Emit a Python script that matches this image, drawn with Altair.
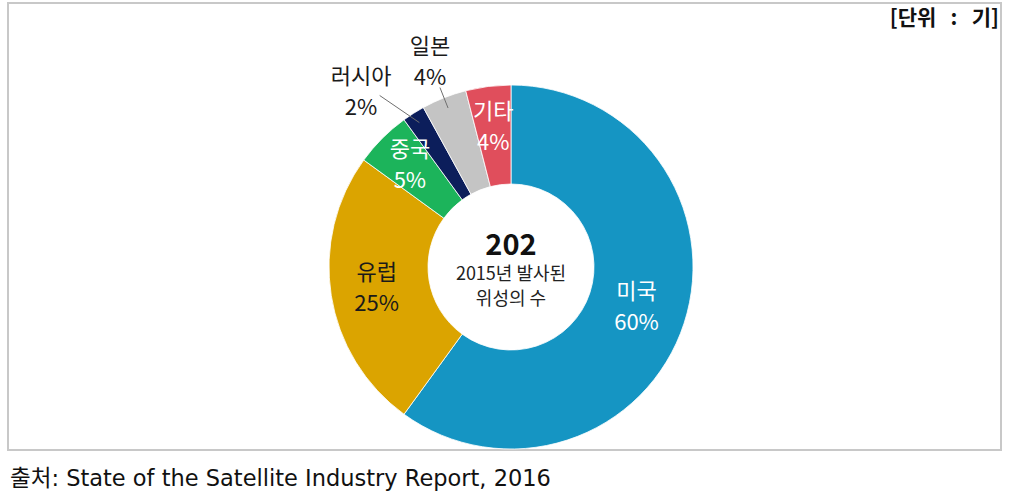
import altair as alt
import pandas as pd

# ---- data ----
categories = ["미국", "유럽", "중국", "러시아", "일본", "기타"]
percents = [60, 25, 5, 2, 4, 4]
total_count = "202"
caption_lines = ["2015년 발사된", "위성의 수"]
unit_text = "[단위\u00a0\u00a0\u00a0:\u00a0\u00a0\u00a0기]"
source_text = "출처: State of the Satellite Industry Report, 2016"

# ---- styles ----
slice_colors = ["#1595c3", "#dba400", "#1cb45b", "#0c1e5b", "#c4c4c4", "#e04e5c"]
label_colors = ["#ffffff", "#1a1a1a", "#ffffff", "#1a1a1a", "#1a1a1a", "#ffffff"]
label_radius = [132, 136, 143, 230, 220, 141]
label_shift = [0, 0, 0, -2.3, 0, 0]          # angle shift in percent units
outside = [False, False, False, True, True, False]
leader_start_r = [0, 0, 0, 216, 193, 0]
leader_start_shift = [0, 0, 0, -1.4, 0, 0]
leader_end_r = 171
CX, CY = 511, 267
R_IN, R_OUT = 83, 182
FONT = "Noto Sans CJK KR"
LH = 31

df = pd.DataFrame({
    "idx": list(range(len(categories))),
    "cat": categories,
    "value": percents,
    "tcolor": label_colors,
    "lr": label_radius,
    "shift": label_shift,
    "outside": outside,
    "ls_r": leader_start_r,
    "ls_shift": leader_start_shift,
})
df["label"] = [f"{c}\n{p}%" for c, p in zip(categories, percents)]

theta_scale = alt.Scale(domain=[0, 100], range=[0, 6.283185307179586])

base = (
    alt.Chart(df)
    .transform_window(cum="sum(value)", sort=[{"field": "idx"}])
    .transform_calculate(
        start="datum.cum - datum.value",
        end="datum.cum",
        mid="datum.cum - datum.value / 2",
        lmid="datum.cum - datum.value / 2 + datum.shift",
    )
)

arcs = base.mark_arc(innerRadius=R_IN, outerRadius=R_OUT, stroke="white", strokeWidth=0.8).encode(
    theta=alt.Theta("start:Q", scale=theta_scale),
    theta2="end:Q",
    color=alt.Color("cat:N", scale=alt.Scale(domain=categories, range=slice_colors), legend=None),
    x=alt.value(CX),
    y=alt.value(CY),
)

labels = base.mark_text(
    font=FONT, fontSize=22, lineHeight=LH, lineBreak="\n", align="center", baseline="middle", dy=-LH / 2
).encode(
    theta=alt.Theta("lmid:Q", scale=theta_scale),
    radius=alt.Radius("lr:Q", scale=None),
    text="label:N",
    color=alt.Color("tcolor:N", scale=None),
    x=alt.value(CX),
    y=alt.value(CY),
)

leaders = (
    base.transform_filter("datum.outside")
    .transform_calculate(
        a1="(datum.mid + datum.ls_shift) / 100 * 2 * PI",
        a2="datum.mid / 100 * 2 * PI",
    )
    .transform_calculate(
        px1=f"{CX} + datum.ls_r * sin(datum.a1)",
        py1=f"{CY} - datum.ls_r * cos(datum.a1)",
        px2=f"{CX} + {leader_end_r} * sin(datum.a2)",
        py2=f"{CY} - {leader_end_r} * cos(datum.a2)",
    )
    .mark_rule(color="#6f6f6f", strokeWidth=1)
    .encode(
        x=alt.X("px1:Q", scale=None),
        y=alt.Y("py1:Q", scale=None),
        x2="px2:Q",
        y2="py2:Q",
    )
)

one = alt.Chart(pd.DataFrame({
    "t": [total_count], "c1": [caption_lines[0]], "c2": [caption_lines[1]],
    "u": [unit_text], "s": [source_text],
}))

frame = one.mark_rect(fill=None, stroke="#c8c8c8", strokeWidth=2).encode(
    x=alt.value(8), x2=alt.value(1001), y=alt.value(3), y2=alt.value(450)
)

total = one.mark_text(font=FONT, fontSize=29, fontWeight="bold", color="#111111", baseline="middle").encode(
    text="t:N", x=alt.value(CX), y=alt.value(246)
)
caption1 = one.mark_text(font=FONT, fontSize=18, color="#222222", baseline="middle").encode(
    text="c1:N", x=alt.value(CX), y=alt.value(275)
)
caption2 = one.mark_text(font=FONT, fontSize=18, color="#222222", baseline="middle").encode(
    text="c2:N", x=alt.value(CX), y=alt.value(300)
)

unit = one.mark_text(font=FONT, fontSize=21, fontWeight="bold", color="#111111", align="right", baseline="middle").encode(
    text="u:N", x=alt.value(999), y=alt.value(19)
)
source = one.mark_text(
    font="DejaVu Sans, " + FONT, fontSize=22.5, color="#111111", align="left", baseline="middle"
).encode(text="s:N", x=alt.value(10), y=alt.value(479))

chart = (
    alt.layer(frame, arcs, leaders, labels, total, caption1, caption2, unit, source)
    .properties(width=1009, height=500, autosize="none", padding=0)
    .configure_view(stroke=None)
)

chart.save("out.html", embed_options={"renderer": "svg", "actions": False})
